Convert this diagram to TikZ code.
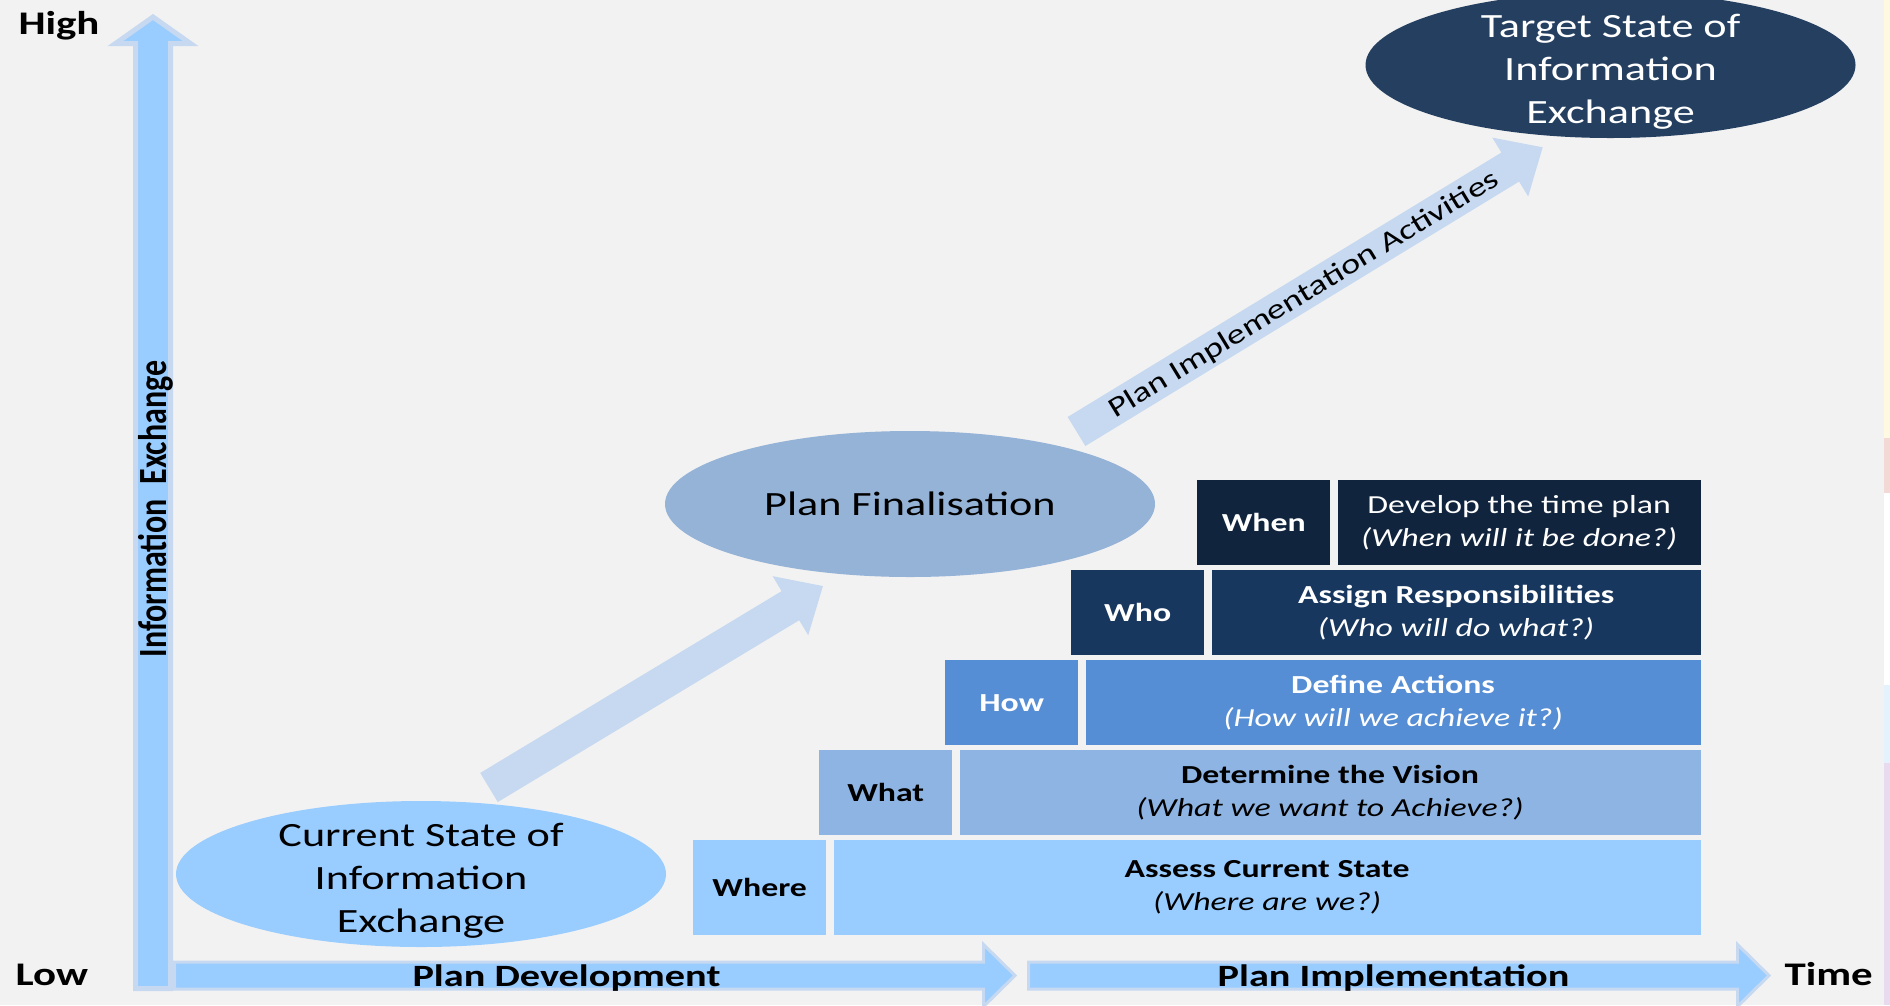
\documentclass[tikz,border=0pt]{standalone}
\usepackage{fontspec}
\setmainfont{Carlito}[FakeStretch=1.3]
\newfontfamily\narrowfont{Carlito}
\usepackage{xcolor}
\usepackage{graphicx}
\usepackage{tikz}
\usetikzlibrary{shapes.geometric,positioning}

\definecolor{bggray}{HTML}{F2F2F2}
\definecolor{axisblue}{HTML}{99CCFF}
\definecolor{axisedge}{HTML}{C6D9F1}
\definecolor{flowblue}{HTML}{C6D9F0}
\definecolor{rowwhere}{HTML}{99CCFF}
\definecolor{rowwhat}{HTML}{8EB4E3}
\definecolor{rowhow}{HTML}{558ED5}
\definecolor{rowwho}{HTML}{17375E}
\definecolor{rowwhen}{HTML}{10243E}
\definecolor{finalblue}{HTML}{95B3D7}
\definecolor{targetblue}{HTML}{243F60}
\definecolor{stripyellow}{HTML}{FFF9E1}
\definecolor{strippink}{HTML}{F2D9D5}
\definecolor{stripblue}{HTML}{E3F2FD}
\definecolor{striplilac}{HTML}{E8DAEF}

\newcommand{\fs}[2]{\fontsize{#1}{#2}\selectfont}
\newcommand{\topstrut}{\rule{0pt}{36pt}}

\begin{document}
\begin{tikzpicture}[x=1pt, y=1pt,
    state/.style = {ellipse, minimum width=490, minimum height=146, inner xsep=0, inner ysep=-14pt, align=center, font=\fs{34}{43}},
    tag/.style = {minimum width=133, minimum height=85, inner sep=0, font=\bfseries\fs{26}{33}},
    task/.style = {minimum height=85, inner sep=0, align=center, font=\fs{26}{33}},
    axis/.style = {fill=axisblue, draw=axisedge, line join=miter},
    flow/.style = {fill=flowblue},
    axislabel/.style = {anchor=base, font=\bfseries\fs{31}{31}},
    corner/.style = {anchor=base west, font=\bfseries\fs{33}{33}}]
  \useasboundingbox (0,0) rectangle (1890,-1005);
  \fill[bggray] (0,0) rectangle (1890,-1005);

  \fill[stripyellow] (1884,0) rectangle (1890,-438);
  \fill[strippink] (1884,-438) rectangle (1890,-493);
  \fill[white] (1884,-493) rectangle (1890,-685);
  \fill[stripblue] (1884,-685) rectangle (1890,-763);
  \fill[striplilac] (1884,-763) rectangle (1890,-1005);

  % axes
  \filldraw[axis, line width=5] (135.5,-988.5) -- (135.5,-43.5) -- (115.5,-43.5) -- (153,-17) -- (190.5,-43.5) -- (170.5,-43.5) -- (170.5,-988.5) -- cycle;
  \filldraw[axis, line width=3] (174.5,-962) -- (983.5,-962) -- (983.5,-944.5) -- (1015,-975.5) -- (983.5,-1006.5) -- (983.5,-989) -- (174.5,-989) -- cycle;
  \filldraw[axis, line width=3] (1028.5,-962) -- (1737.5,-962) -- (1737.5,-944.5) -- (1769,-975.5) -- (1737.5,-1006.5) -- (1737.5,-989) -- (1028.5,-989) -- cycle;

  \node[corner] (high) at (15,-34) {High};
  \node[corner] (low) at (12,-985) {Low};
  \node[corner] (time) at (1781,-985) {Time};
  \node[axislabel] (develop) at (566.5,-986) {Plan Development};
  \node[axislabel] (implement) at (1393.5,-986) {Plan Implementation};
  \node[rotate=90, anchor=base, font=\narrowfont\bfseries\fs{32}{32}] (infoaxis) at (166,-509) {\scalebox{1}[1.25]{Information~~Exchange}};

  % states
  \node[state, fill=axisblue] (current) at (421,-874) {\topstrut Current State of\\Information\\Exchange};
  \node[state, fill=finalblue] (final) at (910,-504) {Plan Finalisation};
  \node[state, fill=targetblue, text=white] (target) at (1610.5,-65) {\topstrut Target State of\\Information\\Exchange};

  \coordinate (devstart) at (489,-787.5);
  \coordinate (impstart) at (1076.5,-431.5);
  \begin{scope}[shift={(devstart)}, rotate=31.1]
    \fill[flow] (0,-17) -- (352,-17) -- (352,-34.5) -- (390,0) -- (352,34.5) -- (352,17) -- (0,17) -- cycle;
  \end{scope}
  \begin{scope}[shift={(impstart)}, rotate=31.37]
    \fill[flow] (0,-17) -- (508,-17) -- (508,-34.5) -- (546,0) -- (508,34.5) -- (508,17) -- (0,17) -- cycle;
  \end{scope}
  \node[rotate=31.37, font=\fs{28}{28}] (activities) at (1304,-295) {Plan Implementation Activities};

  % steps
  \node[tag, fill=rowwhere, minimum height=95, anchor=north west] (where) at (693,-840) {Where};
  \node[task, fill=rowwhere, minimum height=95, minimum width=867, right=7pt of where] (assess) {{\bfseries Assess Current State}\\{\itshape (Where are we?)}};

  \node[tag, fill=rowwhat, anchor=north west] (what) at (819,-750) {What};
  \node[task, fill=rowwhat, minimum width=741, right=7pt of what] (vision) {{\bfseries Determine the Vision}\\{\itshape (What we want to Achieve?)}};

  \node[tag, fill=rowhow, text=white, anchor=north west] (how) at (945,-660) {How};
  \node[task, fill=rowhow, text=white, minimum width=615, right=7pt of how] (actions) {{\bfseries Define Actions}\\{\itshape (How will we achieve it?)}};

  \node[tag, fill=rowwho, text=white, anchor=north west] (who) at (1071,-570) {Who};
  \node[task, fill=rowwho, text=white, minimum width=489, right=7pt of who] (assign) {{\bfseries Assign Responsibilities}\\{\itshape (Who will do what?)}};

  \node[tag, fill=rowwhen, text=white, anchor=north west] (when) at (1197,-480) {When};
  \node[task, fill=rowwhen, text=white, minimum width=363, right=7pt of when] (timeplan) {Develop the time plan\\{\itshape (When will it be done?)}};
\end{tikzpicture}
\end{document}
